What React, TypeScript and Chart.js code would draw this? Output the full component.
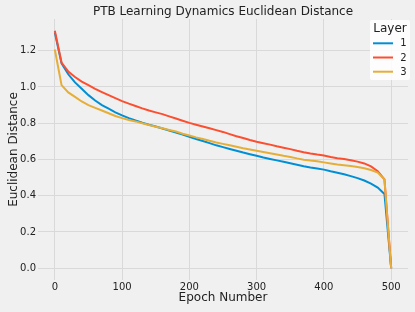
import React, { useEffect, useRef } from "react";
import { Chart, registerables } from "chart.js";

Chart.register(...registerables);

const epochs = [0, 10, 20, 30, 40, 50, 60, 70, 80, 90, 100, 110, 120, 130, 140, 150, 160, 170, 180, 190, 200, 210, 220, 230, 240, 250, 260, 270, 280, 290, 300, 310, 320, 330, 340, 350, 360, 370, 380, 390, 400, 410, 420, 430, 440, 450, 460, 470, 480, 490, 500];

const layer1 = [1.30, 1.13, 1.07, 1.025, 0.99, 0.955, 0.925, 0.90, 0.88, 0.86, 0.843, 0.828, 0.815, 0.803, 0.792, 0.782, 0.771, 0.760, 0.749, 0.738, 0.725, 0.713, 0.702, 0.690, 0.678, 0.668, 0.658, 0.648, 0.638, 0.629, 0.620, 0.611, 0.603, 0.595, 0.587, 0.579, 0.571, 0.563, 0.556, 0.550, 0.544, 0.535, 0.527, 0.518, 0.508, 0.497, 0.484, 0.467, 0.445, 0.41, 0.0];

const layer2 = [1.31, 1.135, 1.085, 1.055, 1.03, 1.01, 0.99, 0.972, 0.955, 0.938, 0.922, 0.908, 0.895, 0.882, 0.87, 0.86, 0.85, 0.838, 0.826, 0.814, 0.802, 0.792, 0.782, 0.772, 0.762, 0.752, 0.740, 0.728, 0.718, 0.707, 0.698, 0.69, 0.682, 0.673, 0.665, 0.657, 0.648, 0.64, 0.633, 0.627, 0.622, 0.614, 0.607, 0.602, 0.596, 0.588, 0.578, 0.562, 0.535, 0.49, 0.0];

const layer3 = [1.207, 1.01, 0.97, 0.945, 0.92, 0.90, 0.885, 0.87, 0.855, 0.84, 0.828, 0.818, 0.81, 0.80, 0.79, 0.781, 0.772, 0.763, 0.754, 0.742, 0.732, 0.722, 0.713, 0.703, 0.694, 0.686, 0.678, 0.67, 0.662, 0.655, 0.648, 0.641, 0.634, 0.627, 0.62, 0.614, 0.606, 0.599, 0.594, 0.59, 0.584, 0.578, 0.572, 0.568, 0.564, 0.558, 0.552, 0.542, 0.528, 0.49, 0.0];

const layerLabels = ["1", "2", "3"];
const layerColors = ["#008fd5", "#fc4f30", "#e5ae38"];
const xTicks = [0, 100, 200, 300, 400, 500];
const yTicks = [0.0, 0.2, 0.4, 0.6, 0.8, 1.0, 1.2];
const titleText = "PTB Learning Dynamics Euclidean Distance";

const FONT = "'DejaVu Sans', sans-serif";
const GRID = "#d9d9d9";

const bgPlugin = {
  id: "bg538",
  beforeDraw(chart: any) {
    const ctx = chart.ctx;
    ctx.save();
    ctx.fillStyle = "#f0f0f0";
    ctx.fillRect(0, 0, chart.width, chart.height);
    ctx.restore();
  },
};

const titlePlugin = {
  id: "axesTitle",
  afterDraw(chart: any) {
    const ctx = chart.ctx;
    const a = chart.chartArea;
    ctx.save();
    ctx.fillStyle = "#222";
    ctx.font = `12px ${FONT}`;
    ctx.textAlign = "center";
    ctx.textBaseline = "middle";
    ctx.fillText(titleText, (a.left + a.right) / 2, 12);
    ctx.restore();
  },
};

const legendPlugin = {
  id: "layerLegend",
  afterDraw(chart: any) {
    const ctx = chart.ctx;
    const x0 = 370, y0 = 20, w = 40, h = 60;
    ctx.save();
    ctx.fillStyle = "rgba(255,255,255,0.85)";
    ctx.beginPath();
    const r = 2;
    ctx.moveTo(x0 + r, y0);
    ctx.lineTo(x0 + w - r, y0);
    ctx.quadraticCurveTo(x0 + w, y0, x0 + w, y0 + r);
    ctx.lineTo(x0 + w, y0 + h - r);
    ctx.quadraticCurveTo(x0 + w, y0 + h, x0 + w - r, y0 + h);
    ctx.lineTo(x0 + r, y0 + h);
    ctx.quadraticCurveTo(x0, y0 + h, x0, y0 + h - r);
    ctx.lineTo(x0, y0 + r);
    ctx.quadraticCurveTo(x0, y0, x0 + r, y0);
    ctx.fill();
    ctx.fillStyle = "#222";
    ctx.font = `12px ${FONT}`;
    ctx.textAlign = "center";
    ctx.textBaseline = "middle";
    ctx.fillText("Layer", x0 + w / 2, 28.5);
    ctx.font = `10px ${FONT}`;
    layerLabels.forEach((lab, i) => {
      const y = 43.3 + i * 14.2;
      ctx.strokeStyle = layerColors[i];
      ctx.lineWidth = 2;
      ctx.beginPath();
      ctx.moveTo(373, y);
      ctx.lineTo(393, y);
      ctx.stroke();
      ctx.fillStyle = "#222";
      ctx.textAlign = "center";
      ctx.fillText(lab, 403.5, y + 0.5);
    });
    ctx.restore();
  },
};

export default function App() {
  const ref = useRef<HTMLCanvasElement>(null);
  useEffect(() => {
    document.body.style.margin = "0";
    const series = [layer1, layer2, layer3];
    const chart = new Chart(ref.current as HTMLCanvasElement, {
      type: "line",
      data: {
        datasets: series.map((s, i) => ({
          label: layerLabels[i],
          data: epochs.map((e, j) => ({ x: e, y: s[j] })),
          borderColor: layerColors[i],
          backgroundColor: layerColors[i],
          borderWidth: 2,
          pointRadius: 0,
          tension: 0,
          fill: false,
          order: 3 - i,
        })),
      },
      options: {
        animation: false,
        responsive: false,
        maintainAspectRatio: false,
        layout: { padding: { left: 0, right: 7, top: 19, bottom: 0 } },
        plugins: {
          legend: { display: false },
          tooltip: { enabled: false },
          title: { display: false },
        },
        scales: {
          x: {
            type: "linear",
            min: -25,
            max: 525,
            afterBuildTicks: (scale: any) => {
              scale.ticks = xTicks.map((v) => ({ value: v }));
            },
            afterFit: (scale: any) => {
              scale.height = 32;
            },
            grid: { color: GRID, lineWidth: 1, drawTicks: false },
            border: { display: false },
            ticks: {
              color: "#222",
              font: { family: FONT, size: 10 },
              padding: 1,
              maxRotation: 0,
            },
            title: {
              display: true,
              text: "Epoch Number",
              color: "#222",
              font: { family: FONT, size: 12 },
              padding: { top: 0, bottom: 7 },
            },
          },
          y: {
            type: "linear",
            min: -0.065,
            max: 1.375,
            afterBuildTicks: (scale: any) => {
              scale.ticks = yTicks.map((v) => ({ value: v }));
            },
            afterFit: (scale: any) => {
              scale.width = 38;
            },
            grid: { color: GRID, lineWidth: 1, drawTicks: false },
            border: { display: false },
            ticks: {
              color: "#222",
              font: { family: FONT, size: 10 },
              padding: 2,
              callback: (v: any) => Number(v).toFixed(1),
            },
            title: {
              display: true,
              text: "Euclidean Distance",
              color: "#222",
              font: { family: FONT, size: 12 },
              padding: { top: 7, bottom: 0 },
            },
          },
        },
      },
      plugins: [bgPlugin, titlePlugin, legendPlugin],
    });
    return () => chart.destroy();
  }, []);
  return <canvas ref={ref} width={415} height={312} style={{ display: "block" }} />;
}
